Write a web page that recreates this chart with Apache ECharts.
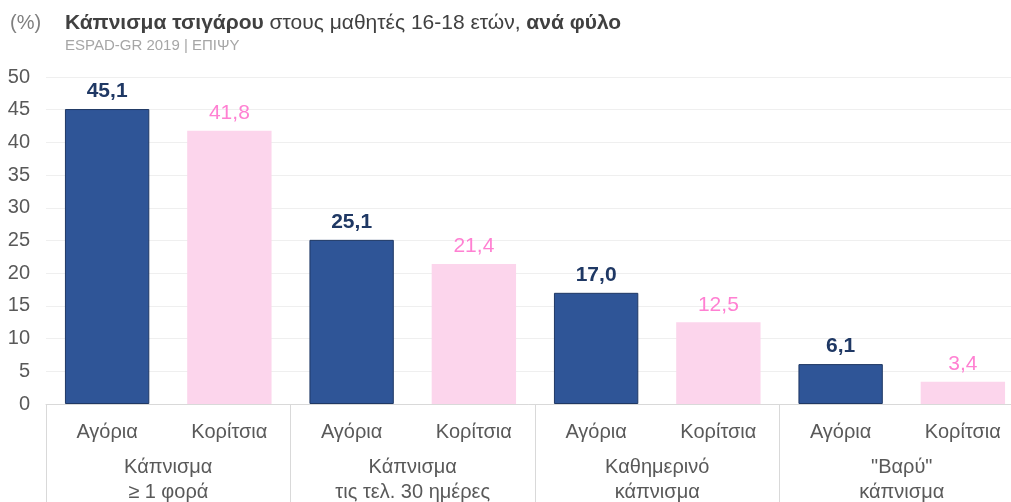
<!DOCTYPE html>
<html><head><meta charset="utf-8">
<script src="https://cdn.jsdelivr.net/npm/echarts@6/dist/echarts.min.js"></script>
<style>html,body{margin:0;padding:0;background:#fff}#c{width:1011px;height:502px}</style>
</head><body><div id="c"></div>
<script>
const groups = ['Κάπνισμα\n≥ 1 φορά', 'Κάπνισμα\nτις τελ. 30 ημέρες', 'Καθημερινό\nκάπνισμα', '"Βαρύ"\nκάπνισμα'];
const sexes = ['Αγόρια', 'Κορίτσια'];
const boys = [45.1, 25.1, 17.0, 6.1];
const girls = [41.8, 21.4, 12.5, 3.4];
const yTicks = [0, 5, 10, 15, 20, 25, 30, 35, 40, 45, 50];

const FONT = '"Liberation Sans", Arial, sans-serif';
const cats = [];
const data = [];
groups.forEach((g, i) => {
  cats.push(sexes[0], sexes[1]);
  data.push({
    value: boys[i],
    itemStyle: { color: '#2f5597', borderColor: '#1f3864', borderWidth: 1 },
    label: { color: '#1f3864', fontWeight: 'bold' }
  });
  data.push({
    value: girls[i],
    itemStyle: { color: '#fcd5ec', borderWidth: 0 },
    label: { color: '#ff80d2', fontWeight: 'normal' }
  });
});

const chart = echarts.init(document.getElementById('c'));
chart.setOption({
  animation: false,
  textStyle: { fontFamily: FONT },
  title: [
    { text: '(%)', left: 5, top: 8, textStyle: { fontFamily: FONT, fontSize: 20, fontWeight: 'normal', color: '#7f7f7f' } },
    {
      text: '{b|Κάπνισμα τσιγάρου} {n|στους μαθητές 16-18 ετών,} {b|ανά φύλο}',
      left: 60, top: 8, itemGap: 4,
      textStyle: {
        fontFamily: FONT, fontSize: 21,
        rich: {
          b: { fontFamily: FONT, fontSize: 21, fontWeight: 'bold', color: '#404040' },
          n: { fontFamily: FONT, fontSize: 21, fontWeight: 'normal', color: '#404040' }
        }
      },
      subtext: 'ESPAD-GR 2019 | ΕΠΙΨΥ',
      subtextStyle: { fontFamily: FONT, fontSize: 15, color: '#a6a6a6' }
    }
  ],
  grid: { left: 46, right: -13, top: 77, bottom: 98, containLabel: false, outerBoundsMode: 'none' },
  xAxis: [
    {
      type: 'category', data: cats, position: 'bottom',
      axisLine: { show: true, lineStyle: { color: '#d9d9d9', width: 1 } },
      axisTick: { show: false },
      axisLabel: { interval: 0, fontFamily: FONT, fontSize: 20, color: '#595959', margin: 18 }
    },
    {
      type: 'category', data: groups, position: 'bottom', offset: 0,
      axisLine: { show: false },
      axisTick: { show: true, interval: 0, length: 100, lineStyle: { color: '#d9d9d9', width: 1 } },
      axisLabel: { interval: 0, fontFamily: FONT, fontSize: 20, color: '#595959', margin: 51, lineHeight: 25 }
    }
  ],
  yAxis: {
    type: 'value', min: yTicks[0], max: yTicks[yTicks.length - 1], interval: 5,
    axisLine: { show: false }, axisTick: { show: false },
    axisLabel: { fontFamily: FONT, fontSize: 20, color: '#595959', margin: 16 },
    splitLine: { lineStyle: { color: '#efefef', width: 1 } }
  },
  series: [{
    type: 'bar', xAxisIndex: 0, data: data, barWidth: '69%',
    label: {
      show: true, position: 'top', distance: 7, fontFamily: FONT, fontSize: 21,
      formatter: p => p.value.toFixed(1).replace('.', ',')
    }
  }]
});
</script></body></html>
